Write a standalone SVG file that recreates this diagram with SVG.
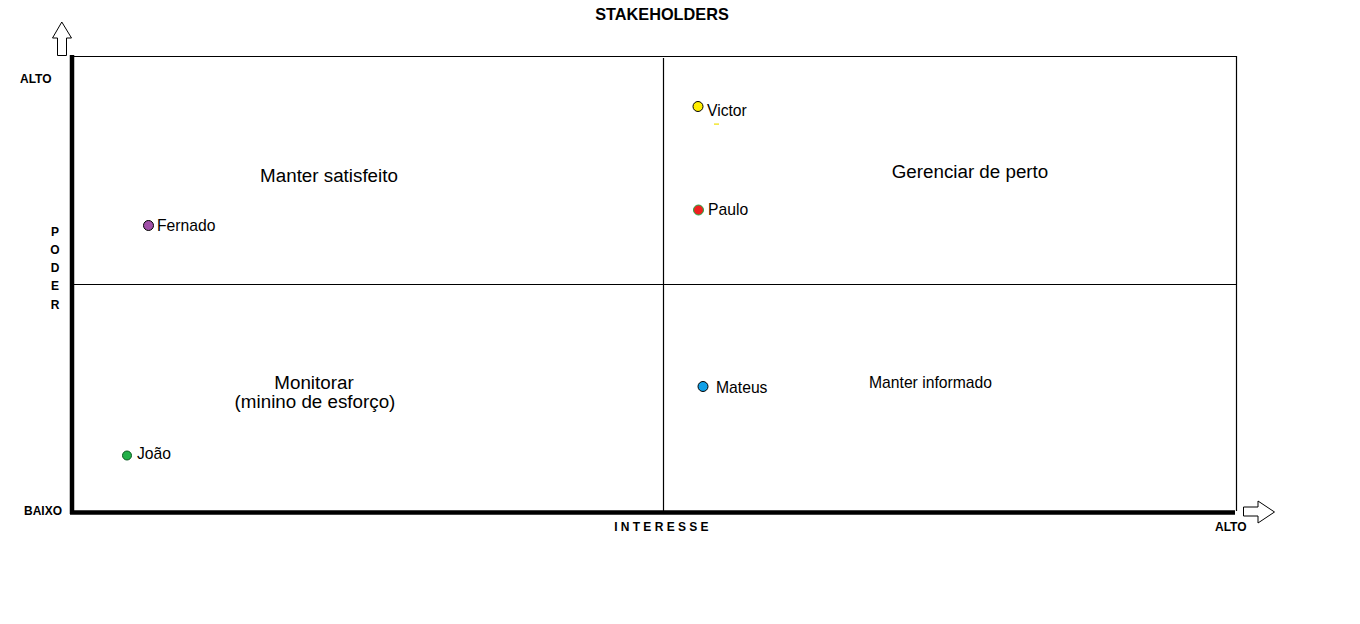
<svg xmlns="http://www.w3.org/2000/svg" width="1360" height="624" viewBox="0 0 1360 624">
<style>
.ax{font-family:"Liberation Sans",Arial,sans-serif;font-weight:bold;font-size:12px;fill:#000}
.q{font-family:"Liberation Sans",Arial,sans-serif;font-size:18.8px;fill:#000}
.n{font-family:"Liberation Sans",Arial,sans-serif;font-size:15.7px;fill:#000}
.thin{stroke:#000;stroke-width:1.2;fill:none}
.thick{stroke:#000;stroke-width:4.5;fill:none}
.dot{stroke-width:1}
</style>
<rect width="1360" height="624" fill="#fff"/>
<text x="662" y="20" text-anchor="middle" style="font-family:'Liberation Sans',Arial,sans-serif;font-weight:bold;font-size:16.3px">STAKEHOLDERS</text>
<g id="connectors">
<line class="thin" x1="72" y1="56.5" x2="1237" y2="56.5"/>
<line class="thin" x1="1236.5" y1="56" x2="1236.5" y2="511"/>
<line class="thin" x1="663.5" y1="58" x2="663.5" y2="511"/>
<line class="thin" x1="72" y1="284.5" x2="1236" y2="284.5"/>
<line class="thick" x1="72" y1="55" x2="72" y2="514"/>
<line class="thick" x1="70" y1="512.5" x2="1235" y2="512.5"/>
<polygon points="57.5,55.5 57.5,38 52.5,38 61.8,22 71.5,38 66.5,38 66.5,55.5" fill="#fff" stroke="#000" stroke-width="1"/>
<polygon points="1243.5,507 1258,507 1258,501 1274.5,512 1258,523 1258,516 1243.5,516" fill="#fff" stroke="#000" stroke-width="1"/>
</g>
<g id="axis-labels">
<text class="ax" x="20" y="83">ALTO</text>
<text class="ax" x="24" y="515">BAIXO</text>
<text class="ax" x="1215" y="531">ALTO</text>
<text class="ax" x="55" y="236" text-anchor="middle">P</text>
<text class="ax" x="55" y="254" text-anchor="middle">O</text>
<text class="ax" x="55" y="272" text-anchor="middle">D</text>
<text class="ax" x="55" y="290" text-anchor="middle">E</text>
<text class="ax" x="55" y="309" text-anchor="middle">R</text>
<text class="ax" x="663" y="531" text-anchor="middle" letter-spacing="3.3">INTERESSE</text>
</g>
<g id="quadrant-labels">
<text class="q" x="329" y="182" text-anchor="middle">Manter satisfeito</text>
<text class="q" x="970" y="178" text-anchor="middle">Gerenciar de perto</text>
<text class="q" x="314" y="389" text-anchor="middle">Monitorar</text>
<text class="q" x="315" y="408" text-anchor="middle">(minino de esforço)</text>
<text class="n" x="869" y="388">Manter informado</text>
</g>
<g id="victor">
<circle class="dot" cx="698" cy="106.5" r="5" fill="#ffee00" stroke="#000"/>
<text class="n" x="707" y="116">Victor</text>
<rect x="714" y="123.5" width="5" height="1.2" fill="#f0e000"/>
</g>
<g id="paulo">
<circle class="dot" cx="698.5" cy="210" r="5" fill="#ee2020" stroke="#22aa44"/>
<text class="n" x="708" y="215">Paulo</text>
</g>
<g id="fernado">
<circle class="dot" cx="148.5" cy="225.5" r="5" fill="#a050a8" stroke="#000"/>
<text class="n" x="157" y="231">Fernado</text>
</g>
<g id="joao">
<circle class="dot" cx="127" cy="455.5" r="4.5" fill="#22b048" stroke="#0a5a20"/>
<text class="n" x="137" y="459">João</text>
</g>
<g id="mateus">
<circle class="dot" cx="703" cy="386.5" r="5" fill="#10a0e8" stroke="#000"/>
<text class="n" x="716" y="393">Mateus</text>
</g>
</svg>
